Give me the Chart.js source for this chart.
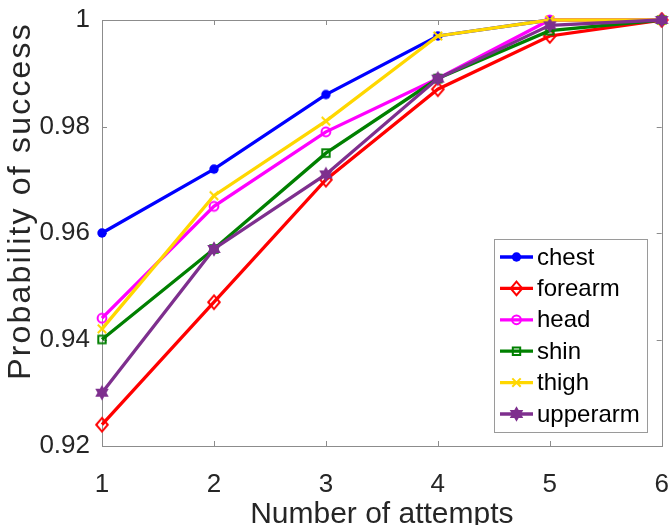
<!DOCTYPE html>
<html>
<head>
<meta charset="utf-8">
<script src="https://cdn.jsdelivr.net/npm/chart.js@4.4.1/dist/chart.umd.min.js"></script>
<style>
  html, body { margin: 0; padding: 0; background: #fff; overflow: hidden; }
</style>
</head>
<body>
<canvas id="canvas" width="670" height="525"></canvas>
<script>
// success probability per body part, by number of attempts
const attempts = [1, 2, 3, 4, 5, 6]
const chest = [0.960, 0.972, 0.986, 0.997, 1.000, 1.000]
const forearm = [0.924, 0.947, 0.970, 0.987, 0.997, 1.000]
const head = [0.944, 0.965, 0.979, 0.989, 1.000, 1.000]
const shin = [0.940, 0.957, 0.975, 0.989, 0.998, 1.000]
const thigh = [0.942, 0.967, 0.981, 0.997, 1.000, 1.000]
const upperarm = [0.930, 0.957, 0.971, 0.989, 0.999, 1.000]

const xTicks = [1, 2, 3, 4, 5, 6]
const yTicks = [0.92, 0.94, 0.96, 0.98, 1]

const series = [
  { name: "chest", values: chest, color: "#0000ff", marker: "dot" },
  { name: "forearm", values: forearm, color: "#ff0000", marker: "diamond" },
  { name: "head", values: head, color: "#ff00ff", marker: "circle" },
  { name: "shin", values: shin, color: "#008000", marker: "square" },
  { name: "thigh", values: thigh, color: "#ffd700", marker: "cross" },
  { name: "upperarm", values: upperarm, color: "#7e2f8e", marker: "hexagram" }
]

const yTitle = "Probability of success"
const textColor = "#262626"
const axisColor = "#8c8c8c"
const fontFamily = "'Liberation Sans', Arial, sans-serif"

// marker shapes drawn around (0, 0)
function drawMarker(ctx, marker, color) {
  ctx.strokeStyle = color
  ctx.fillStyle = color
  ctx.lineWidth = 2
  ctx.beginPath()
  if (marker === "dot") {
    ctx.arc(0, 0, 4.7, 0, Math.PI * 2)
    ctx.fill()
  } else if (marker === "circle") {
    ctx.arc(0, 0, 4.4, 0, Math.PI * 2)
    ctx.stroke()
  } else if (marker === "diamond") {
    ctx.moveTo(0, -6.8)
    ctx.lineTo(5.8, 0)
    ctx.lineTo(0, 6.8)
    ctx.lineTo(-5.8, 0)
    ctx.closePath()
    ctx.stroke()
  } else if (marker === "square") {
    ctx.rect(-3.7, -3.7, 7.4, 7.4)
    ctx.stroke()
  } else if (marker === "cross") {
    ctx.moveTo(-4.2, -4.2)
    ctx.lineTo(4.2, 4.2)
    ctx.moveTo(4.2, -4.2)
    ctx.lineTo(-4.2, 4.2)
    ctx.stroke()
  } else if (marker === "hexagram") {
    const r = 7.8
    for (let k = 0; k < 2; k++) {
      const start = k === 0 ? -Math.PI / 2 : Math.PI / 2
      ctx.moveTo(r * Math.cos(start), r * Math.sin(start))
      for (let j = 1; j < 3; j++) {
        const a = start + j * 2 * Math.PI / 3
        ctx.lineTo(r * Math.cos(a), r * Math.sin(a))
      }
      ctx.closePath()
    }
    ctx.fill()
  }
}

function markerImage(marker, color) {
  const c = document.createElement("canvas")
  c.width = 22
  c.height = 22
  const ctx = c.getContext("2d")
  ctx.translate(11, 11)
  drawMarker(ctx, marker, color)
  return c
}

// box around the plot, inward ticks, y title and the legend
const axesBox = {
  id: "axesBox",
  beforeDatasetsDraw(chart) {
    const { ctx, chartArea: a, scales } = chart
    ctx.save()
    ctx.strokeStyle = axisColor
    ctx.lineWidth = 1
    ctx.strokeRect(Math.round(a.left) + 0.5, Math.round(a.top) + 0.5,
      Math.round(a.right - a.left), Math.round(a.bottom - a.top))
    ctx.beginPath()
    xTicks.forEach(function (t) {
      const x = Math.round(scales.x.getPixelForValue(t)) + 0.5
      ctx.moveTo(x, a.bottom)
      ctx.lineTo(x, a.bottom - 5)
      ctx.moveTo(x, a.top)
      ctx.lineTo(x, a.top + 5)
    })
    yTicks.forEach(function (t) {
      const y = Math.round(scales.y.getPixelForValue(t)) + 0.5
      ctx.moveTo(a.left, y)
      ctx.lineTo(a.left + 5, y)
      ctx.moveTo(a.right, y)
      ctx.lineTo(a.right - 5, y)
    })
    ctx.stroke()

    // rotated axis title, a bit spaced out, ending near the top of the axis
    ctx.translate(30, a.top + 2)
    ctx.rotate(-Math.PI / 2)
    ctx.font = "32px " + fontFamily
    if ("letterSpacing" in ctx) ctx.letterSpacing = "2.2px"
    ctx.fillStyle = textColor
    ctx.textAlign = "right"
    ctx.textBaseline = "alphabetic"
    ctx.fillText(yTitle, 0, 0)
    ctx.restore()
  },
  afterDatasetsDraw(chart) {
    const ctx = chart.ctx
    const box = { left: 494, top: 239, width: 153, height: 193 }
    ctx.save()
    ctx.fillStyle = "#ffffff"
    ctx.fillRect(box.left, box.top, box.width, box.height)
    ctx.strokeStyle = "#9a9a9a"
    ctx.lineWidth = 1
    ctx.strokeRect(box.left + 0.5, box.top + 0.5, box.width, box.height)
    ctx.font = "24px " + fontFamily
    ctx.textBaseline = "middle"
    series.forEach(function (s, i) {
      const y = 257 + i * 31.4
      ctx.strokeStyle = s.color
      ctx.lineWidth = 3.3
      ctx.beginPath()
      ctx.moveTo(500, y)
      ctx.lineTo(533, y)
      ctx.stroke()
      ctx.save()
      ctx.translate(516.5, y)
      drawMarker(ctx, s.marker, s.color)
      ctx.restore()
      ctx.fillStyle = "#000000"
      ctx.fillText(s.name, 537, y + 1)
    })
    ctx.restore()
  }
}

const datasets = series.map(function (s, i) {
  return {
    label: s.name,
    data: attempts.map(function (a, j) { return { x: a, y: s.values[j] } }),
    borderColor: s.color,
    backgroundColor: s.color,
    borderWidth: 3.3,
    pointStyle: markerImage(s.marker, s.color),
    pointRadius: 5,
    tension: 0,
    clip: false,
    // later series are drawn on top
    order: series.length - i
  }
})

new Chart(document.getElementById("canvas"), {
  type: "line",
  data: { datasets: datasets },
  options: {
    responsive: false,
    animation: false,
    layout: { padding: { top: 20, right: 7, left: 0, bottom: 0 } },
    plugins: {
      legend: { display: false },
      tooltip: { enabled: false }
    },
    scales: {
      x: {
        type: "linear",
        min: 1,
        max: 6,
        afterBuildTicks: function (scale) {
          scale.ticks = xTicks.map(function (v) { return { value: v } })
        },
        afterFit: function (scale) {
          scale.height = 79
          scale.paddingLeft = 0
          scale.paddingRight = 0
        },
        grid: { display: false, drawTicks: false },
        border: { display: false },
        ticks: {
          color: textColor,
          padding: 23,
          maxRotation: 0,
          font: { family: fontFamily, size: 26 }
        },
        title: {
          display: true,
          text: "Number of attempts",
          color: textColor,
          font: { family: fontFamily, size: 30, lineHeight: 1 },
          padding: { top: 0, bottom: -5 }
        }
      },
      y: {
        type: "linear",
        min: 0.92,
        max: 1,
        afterBuildTicks: function (scale) {
          scale.ticks = yTicks.map(function (v) { return { value: v } })
        },
        afterFit: function (scale) {
          scale.width = 102
          scale.paddingTop = 0
          scale.paddingBottom = 0
        },
        grid: { display: false, drawTicks: false },
        border: { display: false },
        ticks: {
          color: textColor,
          padding: 12,
          font: { family: fontFamily, size: 26 },
          callback: function (v) { return v === 1 ? "1" : v.toFixed(2) }
        }
      }
    }
  },
  plugins: [axesBox]
})
</script>
</body>
</html>
